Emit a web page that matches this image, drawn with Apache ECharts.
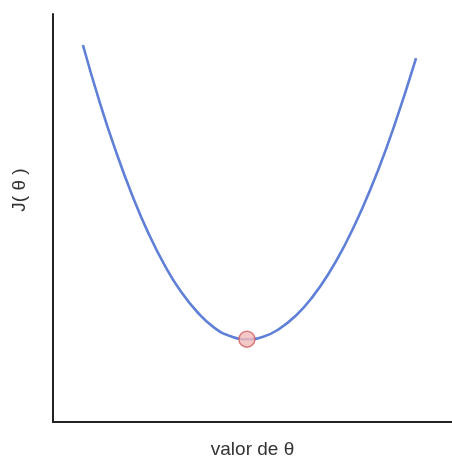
<!DOCTYPE html>
<html>
<head>
<meta charset="utf-8">
<script src="https://cdn.jsdelivr.net/npm/echarts@6/dist/echarts.min.js"></script>
<style>
  html, body { margin: 0; padding: 0; background: #fff; }
  #chart { width: 452px; height: 458px; }
</style>
</head>
<body>
<div id="chart"></div>
<script>
// Cost curve J(theta) sampled along theta (arbitrary units)
const thetaValues = [7.5, 11.6, 15.7, 19.8, 23.9, 28.0, 32.1, 36.2, 40.3, 44.4, 48.6,
                     52.7, 56.8, 60.9, 65.0, 69.1, 73.2, 77.3, 81.4, 85.5, 91.0];
const costValues  = [92.4, 78.7, 66.5, 55.7, 46.3, 38.4, 31.9, 26.9, 23.2, 21.05, 20.3,
                     20.9, 22.9, 26.1, 30.6, 36.4, 43.5, 51.9, 61.5, 72.5, 89.2];
// Minimum of the curve
const minTheta = 48.6;
const minCost = 20.3;

const xAxisName = 'valor de θ';
const yAxisName = 'J( θ )';

const chart = echarts.init(document.getElementById('chart'));
chart.setOption({
  animation: false,
  grid: { left: 53, right: 0, top: 14, bottom: 36, outerBoundsMode: 'none', containLabel: false },
  xAxis: {
    type: 'value', min: 0, max: 100,
    name: xAxisName, nameLocation: 'middle', nameGap: 18,
    nameTextStyle: { fontSize: 19, color: '#333', fontFamily: 'Liberation Sans' },
    axisLine: { lineStyle: { color: '#222', width: 2 } },
    axisTick: { show: false }, axisLabel: { show: false }, splitLine: { show: false }
  },
  yAxis: {
    type: 'value', min: 0, max: 100,
    name: yAxisName, nameLocation: 'middle', nameGap: 24,
    nameTextStyle: { fontSize: 19, color: '#333', fontFamily: 'Liberation Sans', padding: [0, 0, 0, 56] },
    axisLine: { lineStyle: { color: '#222', width: 2 } },
    axisTick: { show: false }, axisLabel: { show: false }, splitLine: { show: false }
  },
  series: [
    {
      type: 'line',
      data: thetaValues.map((t, i) => [t, costValues[i]]),
      smooth: 0.5,
      showSymbol: false,
      lineStyle: { color: '#5f80d6', width: 2.6 }
    },
    {
      type: 'scatter',
      data: [[minTheta, minCost]],
      symbolSize: 16,
      itemStyle: { color: '#f4bcbc', borderColor: '#cf5f5f', borderWidth: 1.5 },
      z: 5
    }
  ]
});
</script>
</body>
</html>
